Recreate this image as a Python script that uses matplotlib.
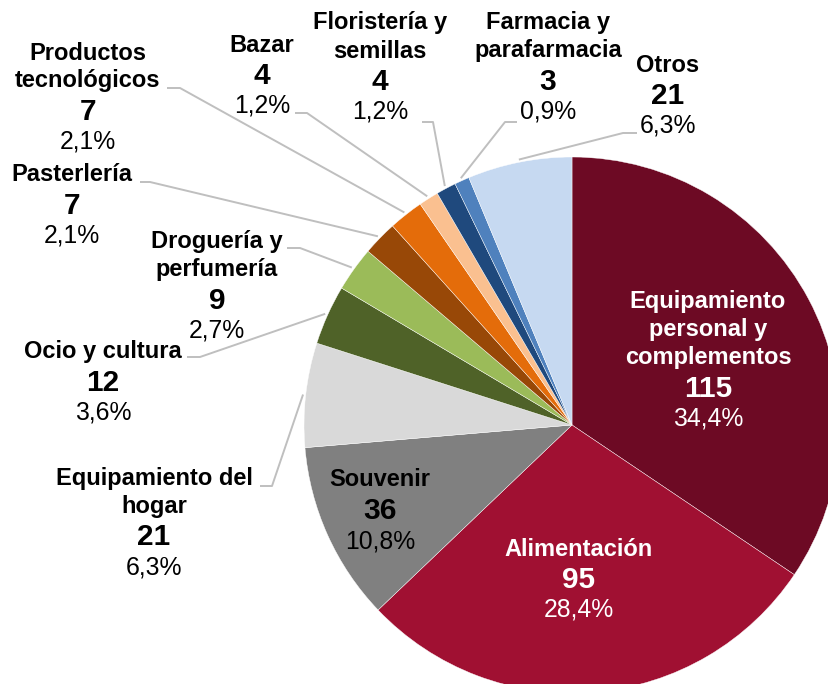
import numpy as np
import matplotlib
matplotlib.use("Agg")
from matplotlib import pyplot as plt

plt.rcParams["font.family"] = ["Liberation Sans", "DejaVu Sans"]

# data, clockwise from 12 o'clock
names = ["Equipamiento\npersonal y\ncomplementos", "Alimentación", "Souvenir",
         "Equipamiento del\nhogar", "Ocio y cultura", "Droguería y\nperfumería",
         "Pasterlería", "Productos\ntecnológicos", "Bazar",
         "Floristería y\nsemillas", "Farmacia y\nparafarmacia", "Otros"]
values = [115, 95, 36, 21, 12, 9, 7, 7, 4, 4, 3, 21]
percents = ["34,4%", "28,4%", "10,8%", "6,3%", "3,6%", "2,7%",
            "2,1%", "2,1%", "1,2%", "1,2%", "0,9%", "6,3%"]
colors = ["#6D0A24", "#A01032", "#808080", "#D9D9D9", "#4F6228", "#9BBB59",
          "#984807", "#E46C0A", "#FAC090", "#1F497D", "#4F81BD", "#C6D9F1"]

W, H = 829, 684
cx, cy, R = 572, 425, 268   # pie centre/radius in pixels (y from top)

fig = plt.figure(figsize=(W / 100, H / 100), dpi=100)
ax = fig.add_axes([0, 0, 1, 1])

def Y(y):
    return H - y

ax.pie(values, colors=colors, startangle=90, counterclock=False,
       center=(cx, Y(cy)), radius=R,
       wedgeprops=dict(edgecolor="white", linewidth=0.3))
ax.set_xlim(0, W)
ax.set_ylim(0, H)
ax.set_aspect("equal")
ax.axis("off")

NAME_FS, NUM_FS, PCT_FS = 17, 21.5, 17.8

def label(i, x, ytop, color="black"):
    lines = names[i].split("\n")
    y = ytop
    for ln in lines:
        ax.text(x, Y(y), ln, ha="center", va="center", fontsize=NAME_FS,
                fontweight="bold", color=color)
        y += 28
    y += 3
    ax.text(x, Y(y), str(values[i]), ha="center", va="center",
            fontsize=NUM_FS, fontweight="bold", color=color)
    y += 30
    ax.text(x, Y(y), percents[i], ha="center", va="center",
            fontsize=PCT_FS, color=color)

# labels inside the pie
label(0, 708, 302, "white")
label(1, 579, 549, "white")
label(2, 380, 480, "black")

# labels outside with leader lines: index -> (x, top y, line start, elbow)
outside = {
    3: (154, 478, (260, 486), (272, 486)),
    4: (103, 352, (187, 357), (200, 357)),
    5: (217, 242, (287, 248), (300, 248)),
    6: (72, 175, (140, 182), (150, 182)),
    7: (88, 53, (167, 88), (180, 88)),
    8: (262, 45, (295, 113), (307, 113)),
    9: (380, 23, (422, 122), (433, 122)),
    10: (548, 23, (517, 122), (505, 122)),
    11: (668, 65, (637, 133), (623, 133)),
}

total = sum(values)
cum = np.cumsum([0] + values)
for i, (x, ytop, p0, p1) in outside.items():
    label(i, x, ytop)
    frac = (cum[i] + values[i] / 2) / total
    theta = 2 * np.pi * frac
    ex = cx + R * 1.01 * np.sin(theta)
    ey = cy - R * 1.01 * np.cos(theta)
    xs = [p0[0], p1[0], ex]
    ys = [Y(p0[1]), Y(p1[1]), Y(ey)]
    ax.plot(xs, ys, color="#BFBFBF", lw=1.4, solid_capstyle="butt")

plt.savefig("out.png", dpi=100)
